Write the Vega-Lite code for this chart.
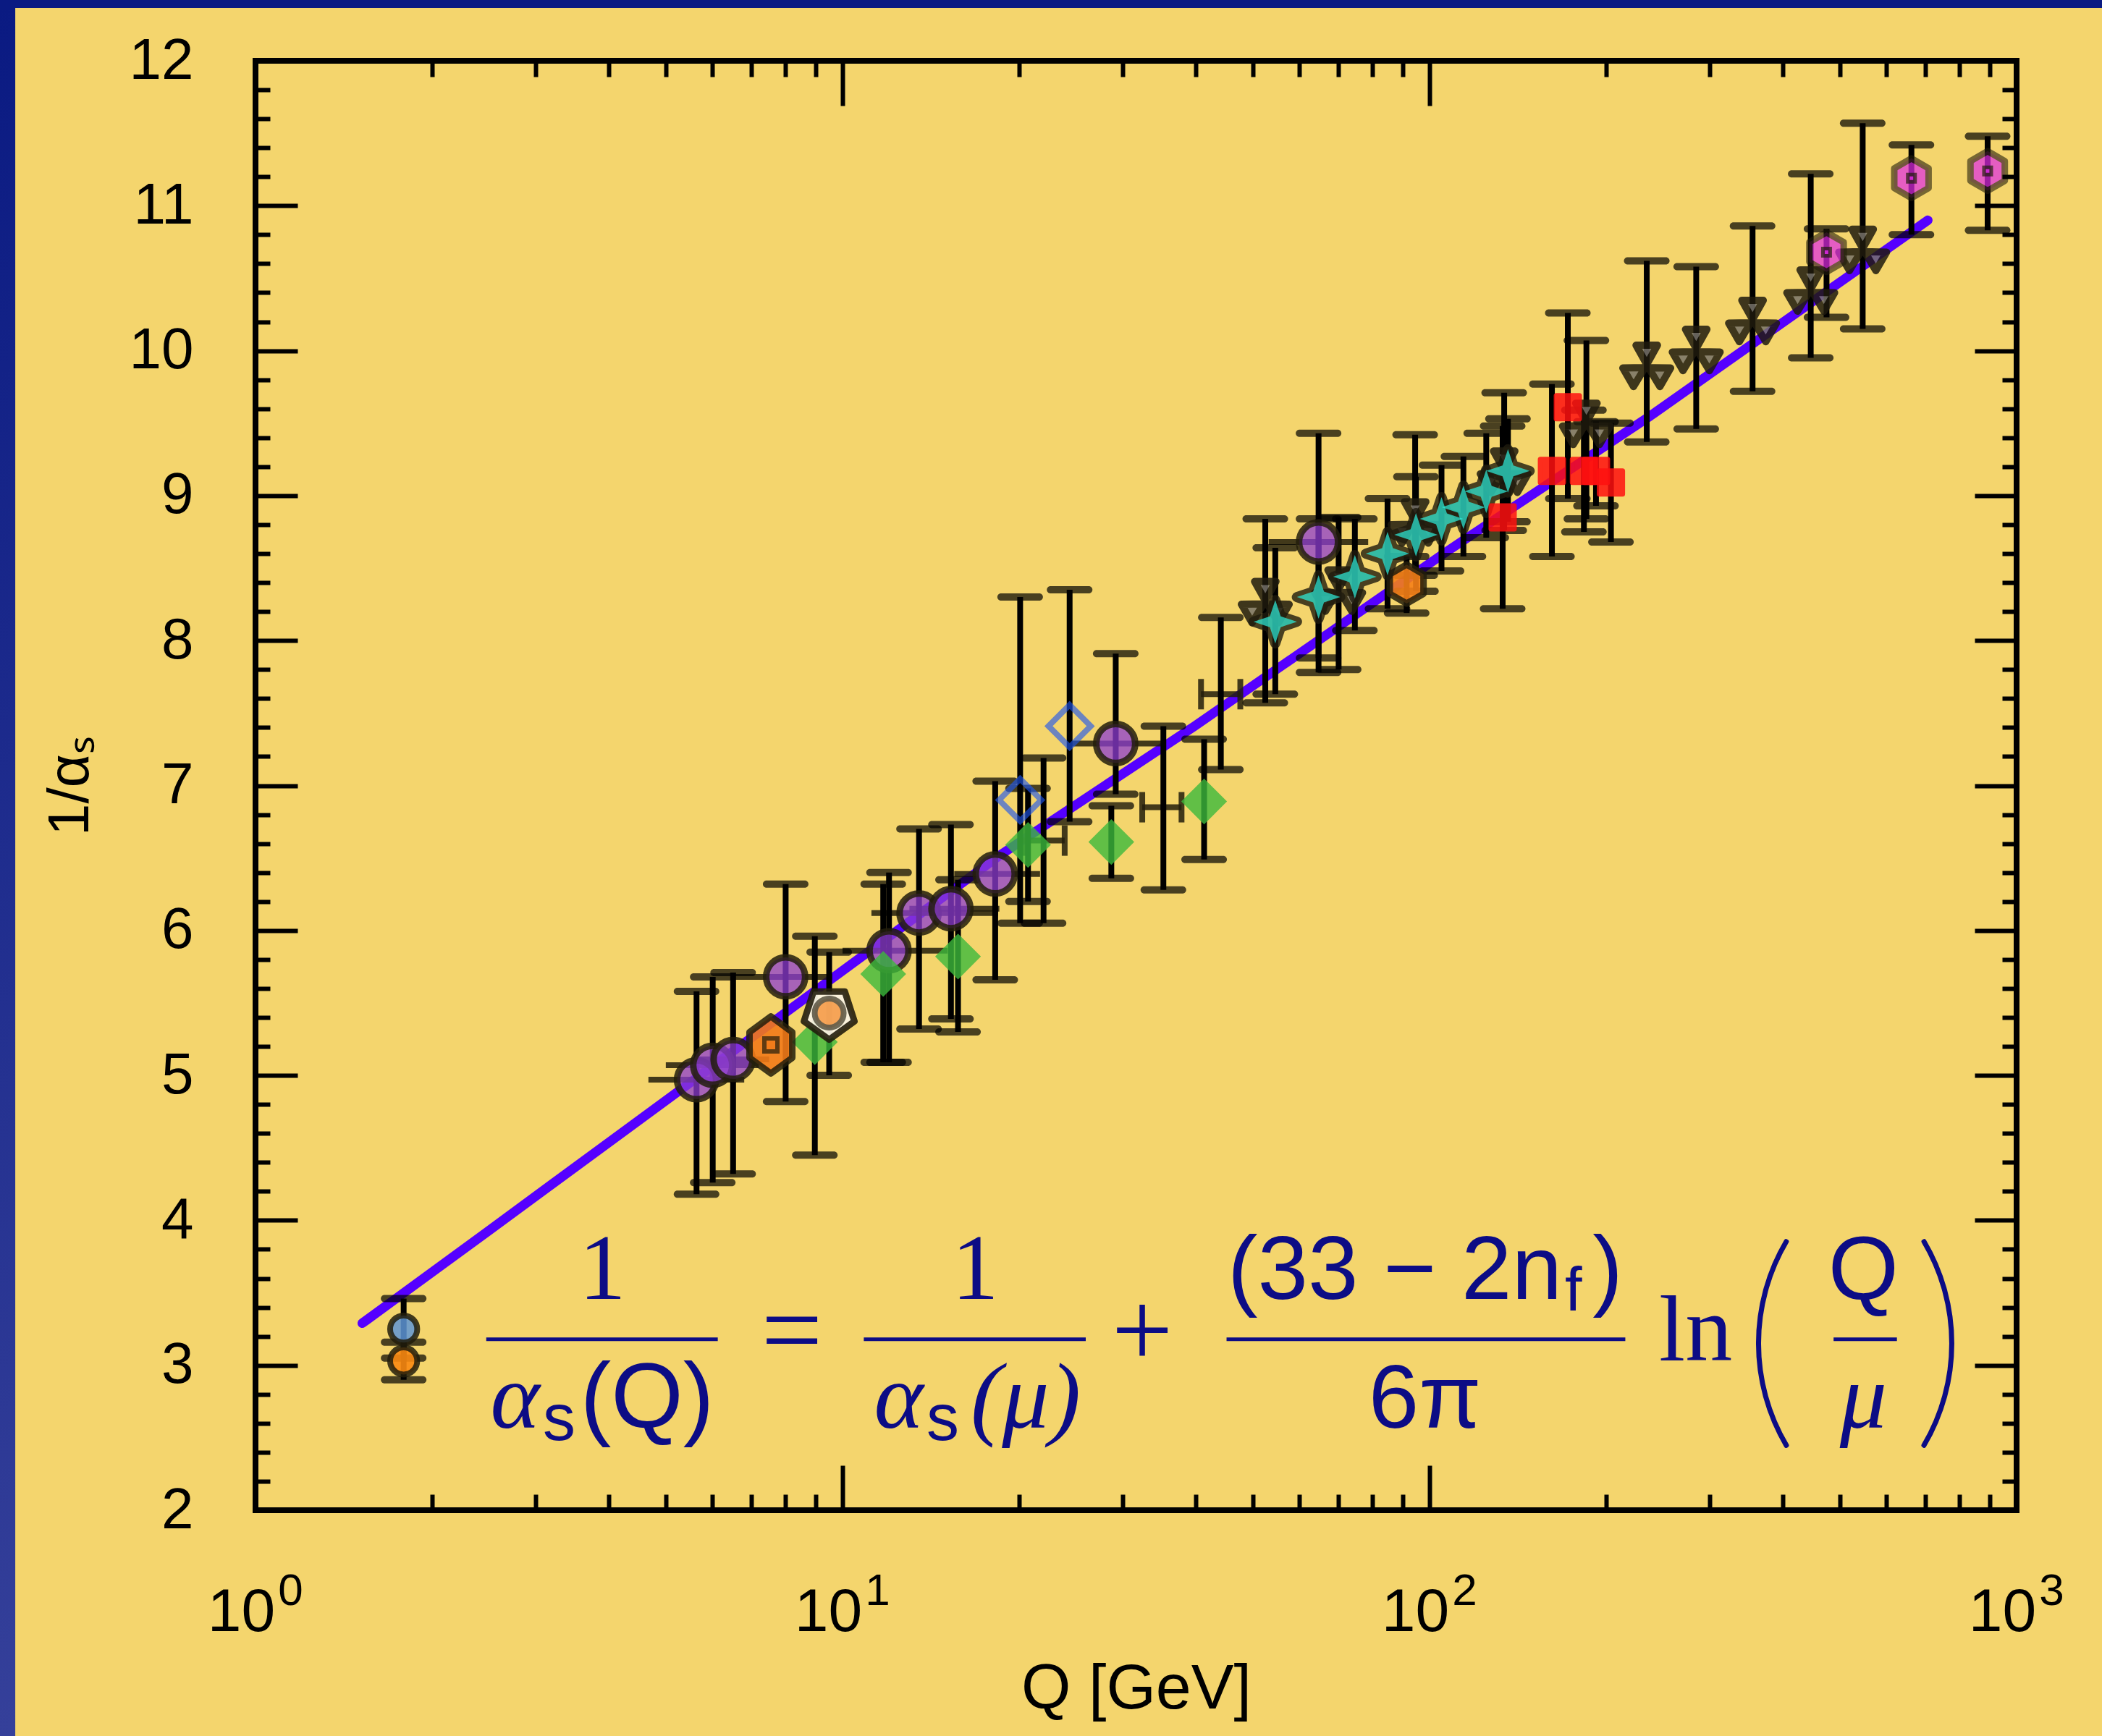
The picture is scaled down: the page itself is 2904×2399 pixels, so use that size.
{
"$schema": "https://vega.github.io/schema/vega-lite/v6.json",
"width": 2433, "height": 2003,
"autosize": {"type": "none"},
"padding": {"left": 353, "top": 84, "right": 118, "bottom": 312},
"background": "#F4D56D",
"config": {"view": {"stroke": "#000000", "strokeWidth": 8}},
"datasets": {
"pts": [
{"s":"taublue","q":1.788,"v":3.25,"lo":3.05,"hi":3.46},
{"s":"tauorange","q":1.788,"v":3.03,"lo":2.9,"hi":3.16},
{"s":"purple","q":5.64,"v":4.97,"lo":4.18,"hi":5.58,"qlo":4.67,"qhi":6.8},
{"s":"purple","q":6.01,"v":5.07,"lo":4.26,"hi":5.68,"qlo":5.0,"qhi":7.2},
{"s":"purple","q":6.51,"v":5.11,"lo":4.32,"hi":5.71,"qlo":5.6,"qhi":7.5},
{"s":"purple","q":8.0,"v":5.68,"lo":4.82,"hi":6.32,"qlo":6.5,"qhi":9.6},
{"s":"purple","q":12.0,"v":5.86,"lo":5.09,"hi":6.4,"qlo":10.0,"qhi":15.1},
{"s":"purple","q":13.5,"v":6.12,"lo":5.32,"hi":6.7,"qlo":11.2,"qhi":18.4},
{"s":"purple","q":15.3,"v":6.15,"lo":5.39,"hi":6.73,"qlo":13.0,"qhi":18.5},
{"s":"purple","q":18.2,"v":6.39,"lo":5.66,"hi":7.03,"qlo":15.5,"qhi":21.7},
{"s":"purple","q":29.2,"v":7.29,"lo":6.94,"hi":7.91,"qlo":24.2,"qhi":35.5},
{"s":"purple","q":64.7,"v":8.68,"lo":7.88,"hi":9.43,"qlo":53.2,"qhi":78.6},
{"s":"green","q":8.97,"v":5.23,"lo":4.45,"hi":5.96},
{"s":"green","q":11.73,"v":5.7,"lo":5.09,"hi":6.32},
{"s":"green","q":15.73,"v":5.82,"lo":5.3,"hi":6.35},
{"s":"green","q":20.7,"v":6.59,"lo":6.2,"hi":6.98},
{"s":"green","q":28.7,"v":6.61,"lo":6.36,"hi":6.86},
{"s":"green","q":41.3,"v":6.89,"lo":6.49,"hi":7.32},
{"s":"bluediamond","q":20.07,"v":6.9,"lo":6.05,"hi":8.3},
{"s":"bluediamond","q":24.37,"v":7.41,"lo":6.75,"hi":8.35},
{"s":"none","q":22.0,"v":6.62,"lo":6.05,"hi":7.19,"qlo":20.3,"qhi":23.9},
{"s":"none","q":35.2,"v":6.85,"lo":6.28,"hi":7.41,"qlo":32.4,"qhi":37.8},
{"s":"none","q":44.1,"v":7.63,"lo":7.11,"hi":8.16,"qlo":40.8,"qhi":47.6},
{"s":"pentagon","q":9.49,"v":5.43,"lo":5.0,"hi":5.85},
{"s":"orangesq","q":7.55,"v":5.21},
{"s":"orangehex","q":91.4,"v":8.39,"lo":8.19,"hi":8.58},
{"s":"bowtie","q":52.5,"v":8.26,"lo":7.57,"hi":8.84},
{"s":"bowtie","q":70.0,"v":8.34,"lo":7.8,"hi":8.85},
{"s":"bowtie","q":94.5,"v":8.81,"lo":8.45,"hi":9.42},
{"s":"bowtie","q":134.0,"v":9.16,"lo":8.76,"hi":9.71},
{"s":"bowtie","q":185.0,"v":9.49,"lo":8.84,"hi":10.07},
{"s":"bowtie","q":234.4,"v":9.89,"lo":9.37,"hi":10.62},
{"s":"bowtie","q":284.6,"v":10.0,"lo":9.46,"hi":10.58},
{"s":"bowtie","q":355.0,"v":10.2,"lo":9.72,"hi":10.86},
{"s":"bowtie","q":446.0,"v":10.41,"lo":9.95,"hi":11.22},
{"s":"bowtie","q":546.8,"v":10.69,"lo":10.15,"hi":11.57},
{"s":"star","q":54.6,"v":8.13,"lo":7.63,"hi":8.64},
{"s":"star","q":64.7,"v":8.3,"lo":7.78,"hi":8.84},
{"s":"star","q":74.6,"v":8.44,"lo":8.07,"hi":8.84},
{"s":"star","q":84.8,"v":8.6,"lo":8.22,"hi":8.98},
{"s":"star","q":94.8,"v":8.73,"lo":8.34,"hi":9.13},
{"s":"star","q":104.8,"v":8.84,"lo":8.48,"hi":9.21},
{"s":"star","q":114.2,"v":8.92,"lo":8.58,"hi":9.27},
{"s":"star","q":124.9,"v":9.03,"lo":8.71,"hi":9.43},
{"s":"star","q":136.0,"v":9.17,"lo":8.82,"hi":9.53},
{"s":"red","q":133.2,"v":8.85,"lo":8.22,"hi":9.48},
{"s":"red","q":161.6,"v":9.17,"lo":8.58,"hi":9.77},
{"s":"red","q":172.0,"v":9.61,"lo":8.98,"hi":10.26},
{"s":"red","q":183.2,"v":9.17,"lo":8.75,"hi":9.59},
{"s":"red","q":192.1,"v":9.17,"lo":8.93,"hi":9.51},
{"s":"red","q":203.7,"v":9.09,"lo":8.68,"hi":9.5},
{"s":"magenta","q":474.5,"v":10.68,"lo":10.23,"hi":10.84},
{"s":"magenta","q":662.0,"v":11.19,"lo":10.8,"hi":11.42},
{"s":"magenta","q":892.6,"v":11.24,"lo":10.83,"hi":11.48}
],
"curve": [
{"q":1.52,"v":3.29},{"q":2.48,"v":3.92},{"q":4.1,"v":4.57},{"q":18.4,"v":6.51},
{"q":39.8,"v":7.41},{"q":107.5,"v":8.62},{"q":237.7,"v":9.55},{"q":706,"v":10.9}
]
},
"layer": [
{"data":{"values":[{}]},
 "mark":{"type":"rect","fill":{"gradient":"linear","x1":0,"y1":0,"x2":0,"y2":1,"stops":[{"offset":0,"color":"#0a1a82"},{"offset":1,"color":"#35409a"}]}},
 "encoding":{"x":{"datum":0.0001,"type":"quantitative","axis":null},"x2":{"datum":0.3897},"y":{"datum":12.4194,"type":"quantitative","axis":null},"y2":{"datum":0.4423}}},
{"data":{"values":[{}]},
 "mark":{"type":"rect","fill":"#0a1a82"},
 "encoding":{"x":{"datum":0.0001,"type":"quantitative","axis":null},"x2":{"datum":10000000},"y":{"datum":12.364,"type":"quantitative","axis":null},"y2":{"datum":20}}},
{"data":{"name":"curve"},
 "mark":{"type":"line","color":"#5500FF","strokeWidth":13,"strokeCap":"round","strokeJoin":"round"},
 "encoding":{
  "x":{"field":"q","type":"quantitative","scale":{"type":"log","domain":[1,1000],"nice":false},
   "axis":{"orient":"bottom","values":[1,10,100,1000],"labelExpr":"'10'","ticks":false,"domain":false,"grid":false,"labelFont":"Liberation Sans","labelFontSize":84,"labelColor":"#000000","labelPadding":166,"labelOffset":-20,"labelBaseline":"alphabetic","labelFlush":false,"labelOverlap":false,"title":"Q [GeV]","titleFont":"Liberation Sans","titleFontSize":88,"titleFontWeight":"normal","titleColor":"#000000","titlePadding":20,"zindex":1}},
  "y":{"field":"v","type":"quantitative","scale":{"domain":[2,12],"nice":false,"zero":false},
   "axis":{"orient":"left","values":[2,3,4,5,6,7,8,9,10,11,12],"format":"d","ticks":false,"domain":false,"grid":false,"labelFont":"Liberation Sans","labelFontSize":80,"labelColor":"#000000","labelPadding":86,"labelBaseline":"middle","labelFlush":false,"labelOverlap":false,"title":"1/αₛ","titleFont":"Liberation Sans","titleFontSize":80,"titleFontWeight":"normal","titleColor":"#000000","titlePadding":40,"zindex":1}}
 }},
{"data":{"name":"pts"},"transform":[{"filter":"isValid(datum.qlo)"}],
 "mark":{"type":"rule","color":"#221d0c","opacity":0.85,"strokeWidth":8},
 "encoding":{
  "x":{"field":"qlo","type":"quantitative",
   "axis":{"orient":"top","values":[2,3,4,5,6,7,8,9,10,20,30,40,50,60,70,80,90,100,200,300,400,500,600,700,800,900],"labels":false,"domain":false,"grid":false,"ticks":true,"tickColor":"#000000","tickWidth":6,"tickSize":{"condition":{"test":"datum.value == 10 || datum.value == 100","value":-62},"value":-22},"title":null,"zindex":1}},
  "x2":{"field":"qhi"},
  "y":{"field":"v","type":"quantitative",
   "axis":{"orient":"right","values":[2.2,2.4,2.6,2.8,3,3.2,3.4,3.6,3.8,4,4.2,4.4,4.6,4.8,5,5.2,5.4,5.6,5.8,6,6.2,6.4,6.6,6.8,7,7.2,7.4,7.6,7.8,8,8.2,8.4,8.6,8.8,9,9.2,9.4,9.6,9.8,10,10.2,10.4,10.6,10.8,11,11.2,11.4,11.6,11.8],"labels":false,"domain":false,"grid":false,"ticks":true,"tickColor":"#000000","tickWidth":6,"tickSize":{"condition":{"test":"datum.value % 1 == 0","value":-58},"value":-20},"title":null,"zindex":1}}
 }},
{"data":{"name":"pts"},"transform":[{"filter":"datum.s == 'none'"}],
 "mark":{"type":"tick","orient":"vertical","size":42,"thickness":8,"color":"#221d0c","opacity":0.85},
 "encoding":{"x":{"field":"qlo","type":"quantitative",
   "axis":{"orient":"bottom","values":[1,10,100,1000],"labelExpr":"datum.value == 1 ? '0' : datum.value == 10 ? '1' : datum.value == 100 ? '2' : '3'","ticks":false,"domain":false,"grid":false,"labelFont":"Liberation Sans","labelFontSize":62,"labelColor":"#000000","labelPadding":130,"labelOffset":48,"labelBaseline":"alphabetic","labelFlush":false,"labelOverlap":false,"title":null,"zindex":1}},
  "y":{"field":"v","type":"quantitative","axis":null}}},
{"data":{"name":"pts"},"transform":[{"filter":"datum.s == 'none'"}],
 "mark":{"type":"tick","orient":"vertical","size":42,"thickness":8,"color":"#221d0c","opacity":0.85},
 "encoding":{"x":{"field":"qhi","type":"quantitative","axis":null},"y":{"field":"v","type":"quantitative","axis":null}}},
{"data":{"name":"pts"},"transform":[{"filter":"isValid(datum.lo)"}],
 "mark":{"type":"rule","color":"#000000","strokeWidth":8},
 "encoding":{
  "x":{"field":"q","type":"quantitative",
   "axis":{"orient":"bottom","values":[2,3,4,5,6,7,8,9,10,20,30,40,50,60,70,80,90,100,200,300,400,500,600,700,800,900],"labels":false,"domain":false,"grid":false,"ticks":true,"tickColor":"#000000","tickWidth":6,"tickSize":{"condition":{"test":"datum.value == 10 || datum.value == 100","value":-62},"value":-22},"title":null,"zindex":1}},
  "y":{"field":"lo","type":"quantitative",
   "axis":{"orient":"left","values":[2.2,2.4,2.6,2.8,3,3.2,3.4,3.6,3.8,4,4.2,4.4,4.6,4.8,5,5.2,5.4,5.6,5.8,6,6.2,6.4,6.6,6.8,7,7.2,7.4,7.6,7.8,8,8.2,8.4,8.6,8.8,9,9.2,9.4,9.6,9.8,10,10.2,10.4,10.6,10.8,11,11.2,11.4,11.6,11.8],"labels":false,"domain":false,"grid":false,"ticks":true,"tickColor":"#000000","tickWidth":6,"tickSize":{"condition":{"test":"datum.value % 1 == 0","value":-58},"value":-20},"title":null,"zindex":1}},
  "y2":{"field":"hi"}
 }},
{"data":{"name":"pts"},"transform":[{"filter":"isValid(datum.lo)"}],
 "mark":{"type":"tick","orient":"horizontal","size":63,"thickness":10,"color":"#000000","cornerRadius":5},
 "encoding":{"x":{"field":"q","type":"quantitative","axis":null},"y":{"field":"lo","type":"quantitative","axis":null}}},
{"data":{"name":"pts"},"transform":[{"filter":"isValid(datum.hi)"}],
 "mark":{"type":"tick","orient":"horizontal","size":63,"thickness":10,"color":"#000000","cornerRadius":5},
 "encoding":{"x":{"field":"q","type":"quantitative","axis":null},"y":{"field":"hi","type":"quantitative","axis":null}}},
{"data":{"name":"pts"},"transform":[{"filter":"datum.s == 'taublue'"}],
 "mark":{"type":"point","shape":"circle","filled":true,"size":1400,"fill":"#5E95D6","fillOpacity":0.85,"stroke":"#221d0c","strokeOpacity":0.85,"strokeWidth":8},
 "encoding":{"x":{"field":"q","type":"quantitative","axis":null},"y":{"field":"v","type":"quantitative","axis":null}}},
{"data":{"name":"pts"},"transform":[{"filter":"datum.s == 'tauorange'"}],
 "mark":{"type":"point","shape":"circle","filled":true,"size":1400,"fill":"#F98A12","fillOpacity":0.9,"stroke":"#221d0c","strokeOpacity":0.85,"strokeWidth":8},
 "encoding":{"x":{"field":"q","type":"quantitative","axis":null},"y":{"field":"v","type":"quantitative","axis":null}}},
{"data":{"name":"pts"},"transform":[{"filter":"datum.s == 'purple'"}],
 "mark":{"type":"point","shape":"circle","filled":true,"size":2900,"fill":"#8E3CD2","fillOpacity":0.75,"stroke":"#221d0c","strokeOpacity":0.85,"strokeWidth":9},
 "encoding":{"x":{"field":"q","type":"quantitative","axis":null},"y":{"field":"v","type":"quantitative","axis":null}}},
{"data":{"name":"pts"},"transform":[{"filter":"datum.s == 'green'"}],
 "mark":{"type":"point","shape":"diamond","filled":true,"size":4000,"fill":"#3CB93C","fillOpacity":0.8,"strokeWidth":0},
 "encoding":{"x":{"field":"q","type":"quantitative","axis":null},"y":{"field":"v","type":"quantitative","axis":null}}},
{"data":{"name":"pts"},"transform":[{"filter":"datum.s == 'bluediamond'"}],
 "mark":{"type":"point","shape":"diamond","filled":false,"size":3400,"stroke":"#1E56F0","strokeOpacity":0.9,"strokeWidth":8},
 "encoding":{"x":{"field":"q","type":"quantitative","axis":null},"y":{"field":"v","type":"quantitative","axis":null}}},
{"data":{"name":"pts"},"transform":[{"filter":"datum.s == 'pentagon'"}],
 "mark":{"type":"point","shape":"M0,1L0.951,0.309L0.588,-0.809L-0.588,-0.809L-0.951,0.309Z","filled":true,"size":5400,"fill":"#FAF3E3","fillOpacity":0.95,"stroke":"#221d0c","strokeOpacity":0.9,"strokeWidth":9,"strokeJoin":"round"},
 "encoding":{"x":{"field":"q","type":"quantitative","axis":null},"y":{"field":"v","type":"quantitative","axis":null}}},
{"data":{"name":"pts"},"transform":[{"filter":"datum.s == 'pentagon'"}],
 "mark":{"type":"point","shape":"circle","filled":true,"size":1600,"fill":"#F5841F","stroke":"#221d0c","strokeOpacity":0.9,"strokeWidth":8},
 "encoding":{"x":{"field":"q","type":"quantitative","axis":null},"y":{"field":"v","type":"quantitative","axis":null}}},
{"data":{"name":"pts"},"transform":[{"filter":"datum.s == 'orangesq'"}],
 "mark":{"type":"point","shape":"M0,-1L0.75,-0.45L0.75,0.45L0,1L-0.75,0.45L-0.75,-0.45Z","filled":true,"size":6200,"fill":"#F27A18","fillOpacity":0.9,"stroke":"#221d0c","strokeOpacity":0.85,"strokeWidth":9,"strokeJoin":"round"},
 "encoding":{"x":{"field":"q","type":"quantitative","axis":null},"y":{"field":"v","type":"quantitative","axis":null}}},
{"data":{"name":"pts"},"transform":[{"filter":"datum.s == 'orangesq'"}],
 "mark":{"type":"point","shape":"square","filled":true,"size":324,"fill":"#F27A18","stroke":"#221d0c","strokeWidth":6},
 "encoding":{"x":{"field":"q","type":"quantitative","axis":null},"y":{"field":"v","type":"quantitative","axis":null}}},
{"data":{"name":"pts"},"transform":[{"filter":"datum.s == 'orangehex'"}],
 "mark":{"type":"point","shape":"M0,-1L0.866,-0.5L0.866,0.5L0,1L-0.866,0.5L-0.866,-0.5Z","filled":true,"size":2900,"fill":"#F57F17","fillOpacity":0.9,"stroke":"#221d0c","strokeOpacity":0.85,"strokeWidth":9,"strokeJoin":"round"},
 "encoding":{"x":{"field":"q","type":"quantitative","axis":null},"y":{"field":"v","type":"quantitative","axis":null}}},
{"data":{"name":"pts"},"transform":[{"filter":"datum.s == 'bowtie'"}],
 "mark":{"type":"point","shape":"M-0.5,-1L0.5,-1L0,-0.1Z M1.116,0.067L0.616,0.933L0.087,0.05Z M-0.616,0.933L-1.116,0.067L-0.087,0.05Z","filled":true,"size":3500,"fill":"#77736a","stroke":"#1f1b0e","strokeWidth":10,"strokeJoin":"round","opacity":0.85},
 "encoding":{"x":{"field":"q","type":"quantitative","axis":null},"y":{"field":"v","type":"quantitative","axis":null}}},
{"data":{"name":"pts"},"transform":[{"filter":"datum.s == 'star'"}],
 "mark":{"type":"point","shape":"M0,-1L0.25,-0.25L1,0L0.25,0.25L0,1L-0.25,0.25L-1,0L-0.25,-0.25Z","filled":true,"size":3600,"fill":"#1f1b0e","stroke":"#1f1b0e","strokeWidth":14,"strokeJoin":"round","opacity":0.8},
 "encoding":{"x":{"field":"q","type":"quantitative","axis":null},"y":{"field":"v","type":"quantitative","axis":null}}},
{"data":{"name":"pts"},"transform":[{"filter":"datum.s == 'star'"}],
 "mark":{"type":"point","shape":"M0,-1L0.25,-0.25L1,0L0.25,0.25L0,1L-0.25,0.25L-1,0L-0.25,-0.25Z","filled":true,"size":3600,"fill":"#2EF0DD","strokeWidth":0},
 "encoding":{"x":{"field":"q","type":"quantitative","axis":null},"y":{"field":"v","type":"quantitative","axis":null}}},
{"data":{"name":"pts"},"transform":[{"filter":"datum.s == 'red'"}],
 "mark":{"type":"point","shape":"square","filled":true,"size":1024,"fill":"#FF1010","stroke":"#FF1010","strokeWidth":7,"strokeJoin":"round","opacity":0.85},
 "encoding":{"x":{"field":"q","type":"quantitative","axis":null},"y":{"field":"v","type":"quantitative","axis":null}}},
{"data":{"name":"pts"},"transform":[{"filter":"datum.s == 'magenta'"}],
 "mark":{"type":"point","shape":"M0,-1L0.866,-0.5L0.866,0.5L0,1L-0.866,0.5L-0.866,-0.5Z","filled":true,"size":3000,"fill":"#E02BE6","stroke":"#221d0c","strokeOpacity":0.85,"strokeWidth":9,"strokeJoin":"round"},
 "encoding":{"x":{"field":"q","type":"quantitative","axis":null},"y":{"field":"v","type":"quantitative","axis":null}}},
{"data":{"name":"pts"},"transform":[{"filter":"datum.s == 'magenta'"}],
 "mark":{"type":"point","shape":"square","filled":true,"size":100,"fill":"#E02BE6","stroke":"#221d0c","strokeWidth":5},
 "encoding":{"x":{"field":"q","type":"quantitative","axis":null},"y":{"field":"v","type":"quantitative","axis":null}}},
{"data":{"values":[{}]},"mark":{"type":"text","text":"1","font":"Liberation Serif","fontSize":130,"color":"#0c0c85","align":"center","baseline":"alphabetic"},
 "encoding":{"x":{"datum":3.9,"type":"quantitative","axis":null},"y":{"datum":3.458,"type":"quantitative","axis":null}}},
{"data":{"values":[{}]},"mark":{"type":"rule","color":"#0c0c85","strokeWidth":5},
 "encoding":{"x":{"datum":2.472,"type":"quantitative","axis":null},"x2":{"datum":6.13},"y":{"datum":3.18,"type":"quantitative","axis":null}}},
{"data":{"values":[{}]},"mark":{"type":"text","text":"α","font":"Liberation Serif","fontStyle":"italic","fontSize":130,"color":"#0c0c85","align":"center","baseline":"alphabetic"},
 "encoding":{"x":{"datum":2.769,"type":"quantitative","axis":null},"y":{"datum":2.568,"type":"quantitative","axis":null}}},
{"data":{"values":[{}]},"mark":{"type":"text","text":"s","font":"Liberation Sans","fontSize":90,"color":"#0c0c85","align":"center","baseline":"alphabetic"},
 "encoding":{"x":{"datum":3.291,"type":"quantitative","axis":null},"y":{"datum":2.484,"type":"quantitative","axis":null}}},
{"data":{"values":[{}]},"mark":{"type":"text","text":"(Q)","font":"Liberation Sans","fontSize":128,"color":"#0c0c85","align":"center","baseline":"alphabetic"},
 "encoding":{"x":{"datum":4.647,"type":"quantitative","axis":null},"y":{"datum":2.568,"type":"quantitative","axis":null}}},
{"data":{"values":[{}]},"mark":{"type":"text","text":"=","font":"Liberation Serif","fontSize":150,"color":"#0c0c85","align":"center","baseline":"alphabetic"},
 "encoding":{"x":{"datum":8.2,"type":"quantitative","axis":null},"y":{"datum":2.994,"type":"quantitative","axis":null}}},
{"data":{"values":[{}]},"mark":{"type":"text","text":"1","font":"Liberation Serif","fontSize":130,"color":"#0c0c85","align":"center","baseline":"alphabetic"},
 "encoding":{"x":{"datum":16.83,"type":"quantitative","axis":null},"y":{"datum":3.458,"type":"quantitative","axis":null}}},
{"data":{"values":[{}]},"mark":{"type":"rule","color":"#0c0c85","strokeWidth":5},
 "encoding":{"x":{"datum":10.87,"type":"quantitative","axis":null},"x2":{"datum":25.96},"y":{"datum":3.18,"type":"quantitative","axis":null}}},
{"data":{"values":[{}]},"mark":{"type":"text","text":"α","font":"Liberation Serif","fontStyle":"italic","fontSize":130,"color":"#0c0c85","align":"center","baseline":"alphabetic"},
 "encoding":{"x":{"datum":12.47,"type":"quantitative","axis":null},"y":{"datum":2.568,"type":"quantitative","axis":null}}},
{"data":{"values":[{}]},"mark":{"type":"text","text":"s","font":"Liberation Sans","fontSize":90,"color":"#0c0c85","align":"center","baseline":"alphabetic"},
 "encoding":{"x":{"datum":14.82,"type":"quantitative","axis":null},"y":{"datum":2.484,"type":"quantitative","axis":null}}},
{"data":{"values":[{}]},"mark":{"type":"text","text":"(μ)","font":"Liberation Serif","fontStyle":"italic","fontSize":130,"color":"#0c0c85","align":"center","baseline":"alphabetic"},
 "encoding":{"x":{"datum":20.51,"type":"quantitative","axis":null},"y":{"datum":2.568,"type":"quantitative","axis":null}}},
{"data":{"values":[{}]},"mark":{"type":"text","text":"+","font":"Liberation Serif","fontSize":150,"color":"#0c0c85","align":"center","baseline":"alphabetic"},
 "encoding":{"x":{"datum":32.4,"type":"quantitative","axis":null},"y":{"datum":2.994,"type":"quantitative","axis":null}}},
{"data":{"values":[{}]},"mark":{"type":"text","text":"(33 − 2n","font":"Liberation Sans","fontSize":125,"color":"#0c0c85","align":"right","baseline":"alphabetic"},
 "encoding":{"x":{"datum":168.2,"type":"quantitative","axis":null},"y":{"datum":3.458,"type":"quantitative","axis":null}}},
{"data":{"values":[{}]},"mark":{"type":"text","text":"f","font":"Liberation Sans","fontSize":85,"color":"#0c0c85","align":"left","baseline":"alphabetic"},
 "encoding":{"x":{"datum":170.1,"type":"quantitative","axis":null},"y":{"datum":3.38,"type":"quantitative","axis":null}}},
{"data":{"values":[{}]},"mark":{"type":"text","text":")","font":"Liberation Sans","fontSize":125,"color":"#0c0c85","align":"left","baseline":"alphabetic"},
 "encoding":{"x":{"datum":189.5,"type":"quantitative","axis":null},"y":{"datum":3.458,"type":"quantitative","axis":null}}},
{"data":{"values":[{}]},"mark":{"type":"rule","color":"#0c0c85","strokeWidth":5},
 "encoding":{"x":{"datum":45.1,"type":"quantitative","axis":null},"x2":{"datum":215.5},"y":{"datum":3.18,"type":"quantitative","axis":null}}},
{"data":{"values":[{}]},"mark":{"type":"text","text":"6π","font":"Liberation Sans","fontSize":125,"color":"#0c0c85","align":"center","baseline":"alphabetic"},
 "encoding":{"x":{"datum":98.2,"type":"quantitative","axis":null},"y":{"datum":2.568,"type":"quantitative","axis":null}}},
{"data":{"values":[{}]},"mark":{"type":"text","text":"ln","font":"Liberation Serif","fontSize":130,"color":"#0c0c85","align":"center","baseline":"alphabetic"},
 "encoding":{"x":{"datum":284.0,"type":"quantitative","axis":null},"y":{"datum":3.033,"type":"quantitative","axis":null}}},
{"data":{"values":[{}]},"mark":{"type":"arc","theta":4.168,"theta2":5.256,"innerRadius":274,"outerRadius":281,"cornerRadius":3,"fill":"#0c0c85"},
 "encoding":{"x":{"datum":799,"type":"quantitative","axis":null},"y":{"datum":3.151,"type":"quantitative","axis":null}}},
{"data":{"values":[{}]},"mark":{"type":"arc","theta":1.027,"theta2":2.115,"innerRadius":274,"outerRadius":281,"cornerRadius":3,"fill":"#0c0c85"},
 "encoding":{"x":{"datum":352.7,"type":"quantitative","axis":null},"y":{"datum":3.151,"type":"quantitative","axis":null}}},
{"data":{"values":[{}]},"mark":{"type":"text","text":"Q","font":"Liberation Sans","fontSize":125,"color":"#0c0c85","align":"center","baseline":"alphabetic"},
 "encoding":{"x":{"datum":548.3,"type":"quantitative","axis":null},"y":{"datum":3.458,"type":"quantitative","axis":null}}},
{"data":{"values":[{}]},"mark":{"type":"rule","color":"#0c0c85","strokeWidth":5},
 "encoding":{"x":{"datum":487.8,"type":"quantitative","axis":null},"x2":{"datum":625.4},"y":{"datum":3.18,"type":"quantitative","axis":null}}},
{"data":{"values":[{}]},"mark":{"type":"text","text":"μ","font":"Liberation Serif","fontStyle":"italic","fontSize":130,"color":"#0c0c85","align":"center","baseline":"alphabetic"},
 "encoding":{"x":{"datum":548.3,"type":"quantitative","axis":null},"y":{"datum":2.568,"type":"quantitative","axis":null}}}
],
"resolve": {"axis": {"x": "independent", "y": "independent"}}
}
